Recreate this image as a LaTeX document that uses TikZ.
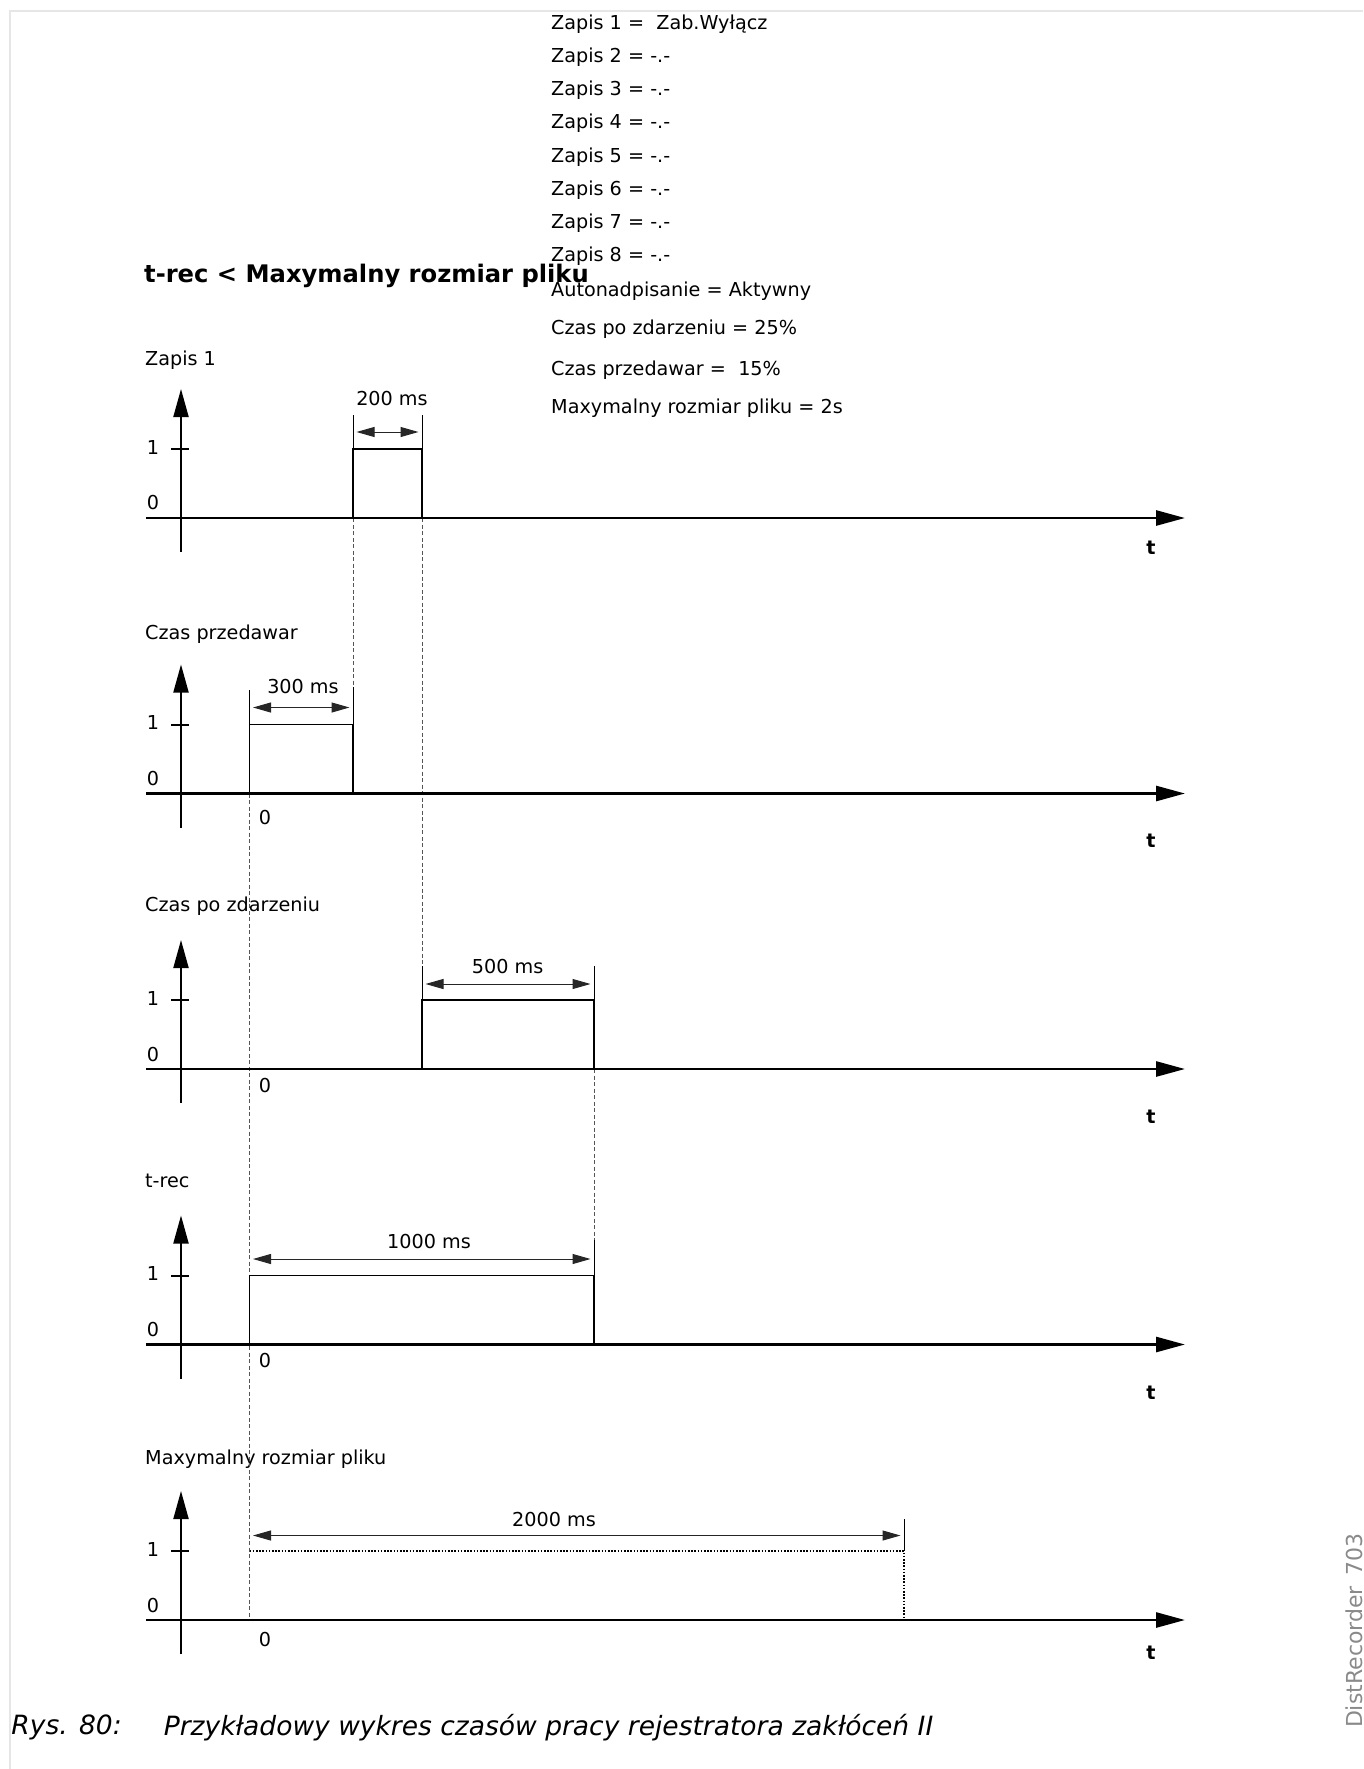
\documentclass[tikz,border=0pt]{standalone}
\usepackage{fontspec}
\setmainfont{DejaVu Sans}
\usetikzlibrary{arrows.meta, positioning, calc}
\definecolor{frameGray}{HTML}{E6E6E6}
\definecolor{guideGray}{HTML}{555555}
\definecolor{tagGray}{HTML}{8A8A8A}
\tikzset{
  txt/.style = {anchor=west, inner sep=0pt, font=\fontsize{19.2}{23}\selectfont},
  titleTxt/.style = {anchor=west, inner sep=0pt, font=\fontsize{24.2}{28}\selectfont\bfseries},
  tLabel/.style = {inner sep=0pt, font=\fontsize{19.2}{23}\selectfont\bfseries},
  num/.style = {inner sep=0pt, font=\fontsize{19.2}{23}\selectfont},
  capt/.style = {anchor=west, inner sep=0pt, font=\fontsize{26.5}{30}\selectfont\itshape},
  timeAxis/.style = {line width=2.7pt, -{Triangle[length=29pt, width=15pt]}},
  valAxis/.style = {line width=2pt, -{Triangle[length=28pt, width=15pt]}},
  tickMark/.style = {line width=2pt},
  pulseLine/.style = {line width=1.8pt},
  pulseDot/.style = {line width=1.6pt, dash pattern=on 1.6pt off 1.6pt},
  extLine/.style = {line width=1pt},
  dimArr/.style = {line width=1pt, draw=black!85,
    {Triangle[length=18pt, width=10pt]}-{Triangle[length=18pt, width=10pt]},
    shorten <=3.5pt, shorten >=3.5pt},
  guide/.style = {line width=1pt, draw=guideGray, dash pattern=on 4pt off 2.5pt},
  frameLine/.style = {line width=2pt, draw=frameGray},
}

\begin{document}
\begin{tikzpicture}[x=1pt, y=-1pt]

\useasboundingbox (0,0) rectangle (1363,1769);
\draw[frameLine] (10,1769) -- (10,11) -- (1363,11);

% settings list
\node[txt] (rec1) at (551,24) {Zapis 1 =\ \ Zab.Wyłącz};
\node[txt] (rec2) at (551,57.2) {Zapis 2 = -.-};
\node[txt] (rec3) at (551,90.4) {Zapis 3 = -.-};
\node[txt] (rec4) at (551,123.6) {Zapis 4 = -.-};
\node[txt] (rec5) at (551,156.8) {Zapis 5 = -.-};
\node[txt] (rec6) at (551,190) {Zapis 6 = -.-};
\node[txt] (rec7) at (551,223.2) {Zapis 7 = -.-};
\node[txt] (rec8) at (551,256.4) {Zapis 8 = -.-};
\node[txt] (autoOw) at (551,291.5) {Autonadpisanie = Aktywny};
\node[txt] (postT) at (551,329.5) {Czas po zdarzeniu = 25\%};
\node[txt] (preT) at (551,370) {Czas przedawar =\ \ 15\%};
\node[txt] (maxF) at (551,408.4) {Maxymalny rozmiar pliku = 2s};

\node[titleTxt] (head) at (144,276) {t-rec < Maxymalny rozmiar pliku};

% signal names
\node[txt] (lblZapis) at (145,360) {Zapis 1};
\node[txt] (lblPrzed) at (145,634) {Czas przedawar};
\node[txt] (lblPo) at (145,906) {Czas po zdarzeniu};
\node[txt] (lblTrec) at (145,1181) {t-rec};
\node[txt] (lblMax) at (145,1459) {Maxymalny rozmiar pliku};

% guide lines
\draw[guide] (353,518) -- (353,687);
\draw[guide] (422,518) -- (422,966);
\draw[guide] (249.5,793.5) -- (249.5,1620);
\draw[guide] (594,1069) -- (594,1240);

% pulses
\draw[pulseLine] (353,518) -- (353,449) -- (422,449) -- (422,518);
\draw[pulseLine] (249.5,793.5) -- (249.5,724.5) -- (353,724.5) -- (353,793.5);
\draw[pulseLine] (422,1069) -- (422,1000) -- (594,1000) -- (594,1069);
\draw[pulseLine] (249.5,1344.5) -- (249.5,1275.5) -- (594,1275.5) -- (594,1344.5);
\draw[pulseDot] (249.5,1551) -- (904,1551) -- (904,1620);

% extension lines
\draw[extLine] (353,415) -- (353,449);
\draw[extLine] (422,415) -- (422,449);
\draw[extLine] (249.5,690) -- (249.5,724.5);
\draw[extLine] (353,687) -- (353,724.5);
\draw[extLine] (422,966) -- (422,1000);
\draw[extLine] (594,966) -- (594,1000);
\draw[extLine] (594,1240) -- (594,1275.5);
\draw[extLine] (904,1519) -- (904,1551);

% durations
\coordinate (d1l) at (353,432);
\coordinate (d1r) at (422,432);
\coordinate (d2l) at (249.5,707.5);
\coordinate (d2r) at (353,707.5);
\coordinate (d3l) at (422,984);
\coordinate (d3r) at (594,984);
\coordinate (d4l) at (249.5,1259);
\coordinate (d4r) at (594,1259);
\coordinate (d5l) at (249.5,1535.5);
\coordinate (d5r) at (904,1535.5);
\draw[dimArr] (d1l) -- (d1r);
\draw[dimArr] (d2l) -- (d2r);
\draw[dimArr] (d3l) -- (d3r);
\draw[dimArr] (d4l) -- (d4r);
\draw[dimArr] (d5l) -- (d5r);
\node[num] (w1) at (392,399) {200 ms};
\node[num] (w2) at (303,687) {300 ms};
\node[num] (w3) at (507.7,966) {500 ms};
\node[num] (w4) at (429,1241.5) {1000 ms};
\node[num] (w5) at (554,1519) {2000 ms};

% axes
\foreach \b/\ty [count=\i] in {518/548, 793.5/840.6, 1069/1117, 1344.5/1392.3, 1620/1653} {
  \draw[timeAxis] (146,\b) -- (1185,\b);
  \draw[valAxis] (181,\b+34) -- (181,\b-129);
  \draw[tickMark] (171,\b-69) -- (189,\b-69);
  \node[num] (one\i) at (153,\b-71) {1};
  \node[num] (zero\i) at (153,\b-15) {0};
  \node[tLabel] (t\i) at (1151,\ty) {t};
}

% time origin
\node[num] (orig2) at (265,817.5) {0};
\node[num] (orig3) at (265,1085.4) {0};
\node[num] (orig4) at (265,1360.7) {0};
\node[num] (orig5) at (265,1639.4) {0};

\node[capt] (captNum) at (11.3,1727.4) {Rys. 80:};
\node[capt] (captTxt) at (163.6,1727.4) {Przykładowy wykres czasów pracy rejestratora zakłóceń II};

\node[rotate=90, anchor=east, inner sep=0pt, text=tagGray,
  font=\fontsize{22}{26}\selectfont] (tag) at (1357,1533) {DistRecorder\_703};

\end{tikzpicture}
\end{document}
